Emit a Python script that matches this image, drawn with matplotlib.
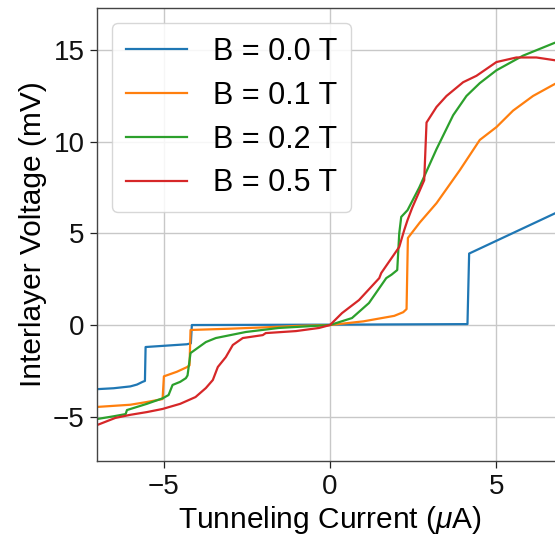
import matplotlib
matplotlib.use("Agg")
import matplotlib.pyplot as plt

plt.rcParams['font.family'] = ['Liberation Sans', 'DejaVu Sans']
plt.rcParams['mathtext.fontset'] = 'custom'
plt.rcParams['mathtext.it'] = 'Liberation Sans:italic'
plt.rcParams['mathtext.rm'] = 'Liberation Sans'

labels = ["B = 0.0 T", "B = 0.1 T", "B = 0.2 T", "B = 0.5 T"]
colors = ["#1f77b4", "#ff7f0e", "#2ca02c", "#d62728"]

x_b00 = [-7.0, -6.5, -6.0, -5.8, -5.63, -5.56, -5.54, -4.3, -4.18, -4.15, 0.0, 4.13, 4.18, 7.0]
y_b00 = [-3.5, -3.45, -3.35, -3.25, -3.1, -3.05, -1.2, -1.05, -1.0, 0.0, 0.02, 0.05, 3.9, 6.3]

x_b01 = [-7.0, -6.0, -5.5, -5.03, -4.99, -4.6, -4.3, -4.22, -4.19, -3.0, -2.0, -1.0, 0.0,
         1.0, 1.93, 2.2, 2.3, 2.34, 2.7, 3.2, 3.9, 4.5, 5.0, 5.5, 6.1, 6.75, 7.0]
y_b01 = [-4.47, -4.35, -4.2, -4.04, -2.8, -2.55, -2.3, -2.2, -0.27, -0.2, -0.13, -0.05, 0.0,
         0.2, 0.5, 0.7, 0.87, 4.75, 5.6, 6.65, 8.45, 10.1, 10.8, 11.7, 12.5, 13.15, 13.35]

x_b02 = [-7.0, -6.5, -6.14, -6.1, -5.5, -5.03, -4.85, -4.73, -4.5, -4.33, -4.28, -4.19,
         -3.73, -3.43, -2.53, -1.54, 0.0,
         0.66, 1.17, 1.69, 1.85, 2.02, 2.08, 2.14, 2.33, 2.68, 3.2, 3.7, 4.1, 4.5, 5.0, 5.8, 6.75, 7.0]
y_b02 = [-5.13, -4.98, -4.86, -4.64, -4.3, -4.0, -3.82, -3.27, -3.1, -2.9, -2.75, -1.53,
         -0.93, -0.71, -0.38, -0.16, 0.0,
         0.38, 1.2, 2.56, 2.75, 3.0, 5.0, 5.9, 6.27, 7.5, 9.6, 11.45, 12.5, 13.2, 13.9, 14.7, 15.4, 15.55]

x_b05 = [-7.0, -6.45, -6.0, -5.5, -5.03, -4.5, -4.04, -3.73, -3.52, -3.37, -3.13, -2.92,
         -2.62, -2.02, -1.93, -1.02, -0.33, 0.0,
         0.36, 0.87, 1.48, 1.54, 2.08, 2.23, 2.33, 2.47, 2.83, 2.9, 3.2, 3.5, 4.0, 4.4, 5.0, 5.6, 6.2, 6.75, 7.0]
y_b05 = [-5.46, -5.07, -4.9, -4.75, -4.58, -4.3, -3.93, -3.44, -3.0, -2.29, -1.75, -1.09,
         -0.71, -0.55, -0.44, -0.33, -0.16, 0.0,
         0.65, 1.36, 2.56, 2.84, 4.26, 5.18, 5.73, 6.4, 7.9, 11.05, 11.9, 12.5, 13.25, 13.6, 14.35, 14.6, 14.6, 14.45, 14.4]

xs = [x_b00, x_b01, x_b02, x_b05]
ys = [y_b00, y_b01, y_b02, y_b05]

fig = plt.figure(figsize=(5.55, 5.38), dpi=100)
ax = fig.add_axes([97/555, 1 - 461/538, (563 - 97)/555, (461 - 8)/538])

for x, y, c, l in zip(xs, ys, colors, labels):
    ax.plot(x, y, color=c, lw=1.6, label=l)

ax.set_xlim(-7, 7)
ax.set_ylim(-7.42, 17.3)
ax.set_xticks([-5, 0, 5])
ax.set_yticks([-5, 0, 5, 10, 15])
ax.grid(True, color='#c8c8c8', lw=1.0)
ax.set_axisbelow(True)
for s in ax.spines.values():
    s.set_color('#444444')
    s.set_linewidth(1.0)
ax.tick_params(labelsize=20, colors='#222222', length=5, width=0.9, pad=4)
ax.tick_params(axis='both', labelcolor='#111111')
ax.set_xlabel("Tunneling Current ($\\mu$A)", fontsize=21.5, labelpad=3.5)
ax.set_ylabel("Interlayer Voltage (mV)", fontsize=21.5, labelpad=4)

leg = ax.legend(loc='upper left', fontsize=22, frameon=True, handlelength=2.0,
                borderaxespad=0.5, labelspacing=0.45, handletextpad=0.85, borderpad=0.45)
leg.get_frame().set_edgecolor('#d0d0d0')
leg.get_frame().set_alpha(0.85)

fig.savefig("out.png", dpi=100)
